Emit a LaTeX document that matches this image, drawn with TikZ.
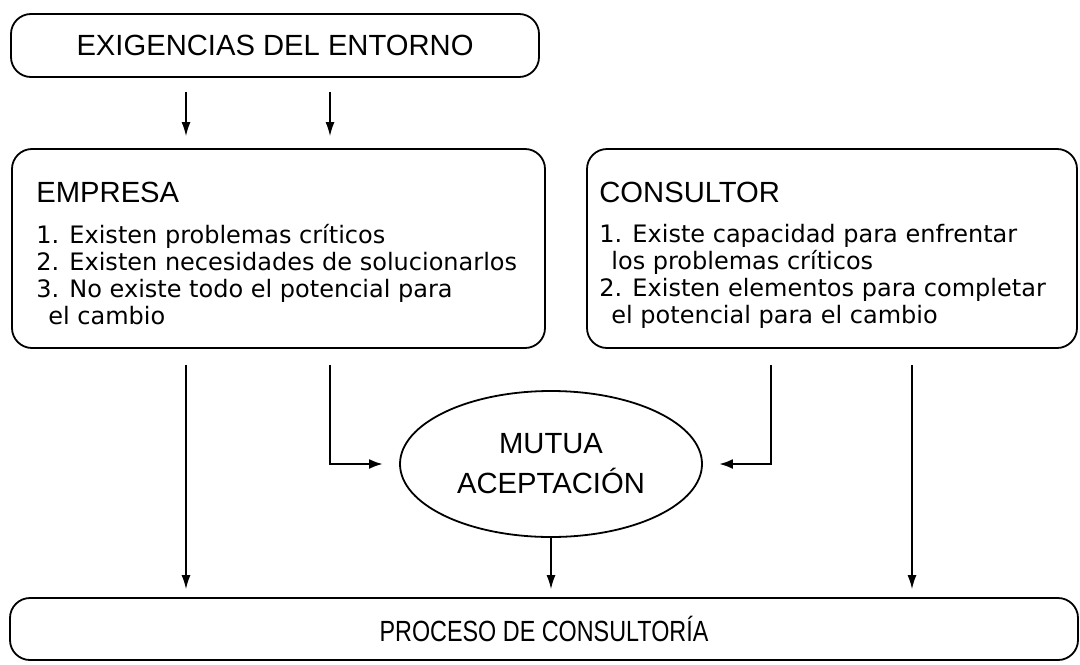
\documentclass[tikz,border=0pt]{standalone}
\usepackage{fontspec}
\setmainfont{Liberation Sans}
\newfontfamily\listafont{DejaVu Sans}
\newfontfamily\estrecha[FakeStretch=0.8]{Liberation Sans}
\usetikzlibrary{arrows.meta,shapes.geometric}

\tikzset{
  caja/.style={draw, rounded corners=10pt, line width=0.9pt, inner sep=0pt},
  titulo/.style={font=\fontsize{14.6}{17}\selectfont, inner sep=0pt},
  lista/.style={font=\listafont\fontsize{12}{13.5}\selectfont, align=left, anchor=north west, inner sep=0pt},
  flecha/.style={-{Latex[length=7pt,width=4.5pt]}, line width=0.7pt},
  flechagruesa/.style={-{Latex[length=7pt,width=5pt]}, line width=1.3pt}
}

\begin{document}
\begin{tikzpicture}[x=0.5pt, y=-0.5pt]
\useasboundingbox (0,0) rectangle (1080,664);
\node [caja, titulo, minimum width=264pt, minimum height=31.5pt] (entorno) at (275,45.5) {EXIGENCIAS DEL ENTORNO};
\node [caja, minimum width=266.5pt, minimum height=99.5pt] (empresa) at (278.5,248.5) {};
\node [caja, minimum width=245pt, minimum height=99.5pt] (consultor) at (832,248.5) {};
\node [caja, ellipse, titulo, align=center, minimum width=151pt, minimum height=73pt] (mutua) at (551,464) {MUTUA\\[3pt]ACEPTACIÓN};
\node [caja, minimum width=534pt, minimum height=31pt, font=\estrecha\fontsize{14.6}{17}\selectfont] (proceso) at (544,629) {PROCESO DE CONSULTORÍA};

\node [titulo, right] (tempresa) at (36,192) {EMPRESA};
\node [lista] (lempresa) at (36,224) {1. Existen problemas críticos\\2. Existen necesidades de solucionarlos\\3. No existe todo el potencial para\\\hspace*{6pt}el cambio};
\node [titulo, right] (tconsultor) at (599,192) {CONSULTOR};
\node [lista] (lconsultor) at (599,224) {1. Existe capacidad para enfrentar\\\hspace*{6pt}los problemas críticos\\2. Existen elementos para completar\\\hspace*{6pt}el potencial para el cambio};

\coordinate (c1) at (186,0);
\coordinate (c2) at (330,0);
\coordinate (c3) at (771,0);
\coordinate (c4) at (912,0);

\draw [flecha, shorten <=7pt, shorten >=6pt] (entorno.south -| c1) -- (empresa.north -| c1);
\draw [flecha, shorten <=7pt, shorten >=6pt] (entorno.south -| c2) -- (empresa.north -| c2);
\draw [flecha, shorten <=8pt, shorten >=4pt] (empresa.south -| c1) -- (proceso.north -| c1);
\draw [flechagruesa, shorten <=8pt, shorten >=8pt] (empresa.south -| c2) |- (mutua.west);
\draw [flechagruesa, shorten <=8pt, shorten >=8pt] (consultor.south -| c3) |- (mutua.east);
\draw [flecha, shorten >=4pt] (mutua.south) -- (proceso.north -| mutua.south);
\draw [flecha, shorten <=8pt, shorten >=4pt] (consultor.south -| c4) -- (proceso.north -| c4);
\end{tikzpicture}
\end{document}
